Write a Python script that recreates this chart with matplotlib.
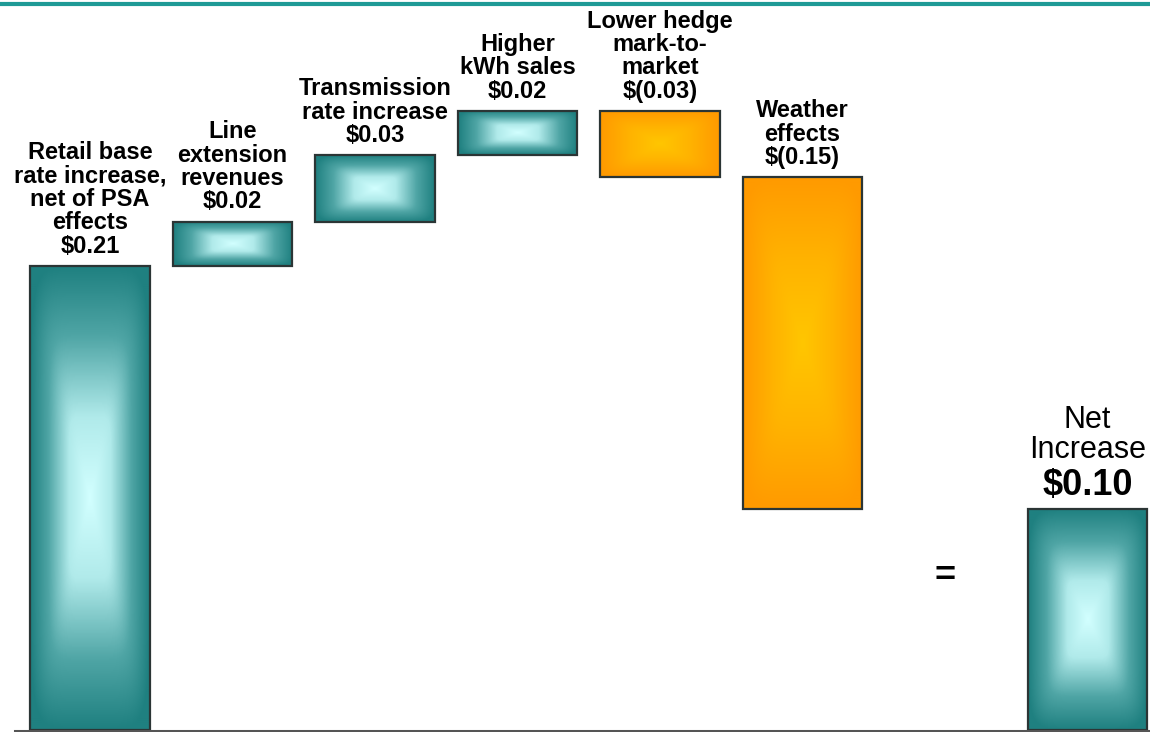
import matplotlib.pyplot as plt
import numpy as np
from matplotlib.colors import LinearSegmentedColormap
from matplotlib.patches import Rectangle

# EPS drivers, $ per share
drivers = ["Retail base\nrate increase,\nnet of PSA\neffects",
           "Line\nextension\nrevenues",
           "Transmission\nrate increase",
           "Higher\nkWh sales",
           "Lower hedge\nmark-to-\nmarket",
           "Weather\neffects"]
changes = [0.21, 0.02, 0.03, 0.02, -0.03, -0.15]
net_label = "Net\nIncrease"
net_pos = 7      # slot 6 holds the "=" sign

teal = LinearSegmentedColormap.from_list(
    "teal", [(0, "#d2ffff"), (0.35, "#b0eaea"), (0.7, "#4fa5a5"), (1, "#1f8080")])
orange = LinearSegmentedColormap.from_list(
    "orange", [(0, "#ffc600"), (0.5, "#ffb300"), (1, "#ff9a00")])

plt.rcParams['font.family'] = ['Liberation Sans', 'DejaVu Sans']

fig = plt.figure(figsize=(11.5, 7.32), dpi=100)
ax = fig.add_axes([0, 2 / 732, 1, 730 / 732])
ax.axis("off")


def money(v):
    return f"${v:.2f}" if v >= 0 else f"$({-v:.2f})"


def box(x, lo, hi, cmap, w=0.84):
    # rectangular gradient with softened corners: light middle, dark edges
    u = np.linspace(-1, 1, 120)
    v = np.linspace(-1, 1, 240)
    U, V = np.meshgrid(u, v)
    t = np.clip((np.abs(U) ** 7 + np.abs(V) ** 7) ** (1 / 7), 0, 1)
    ax.imshow(t, cmap=cmap, extent=[x - w / 2, x + w / 2, lo, hi],
              aspect="auto", interpolation="bilinear", vmin=0, vmax=1, zorder=2)
    ax.add_patch(Rectangle((x - w / 2, lo), w, hi - lo, fill=False,
                           ec="#2b3535", lw=1.6, zorder=3))


level = 0.0
for i, (name, dv) in enumerate(zip(drivers, changes)):
    lo, hi = sorted([level, level + dv])
    box(i, lo, hi, teal if dv > 0 else orange)
    ax.annotate(name + "\n" + money(dv), (i, hi), xytext=(0, 6),
                textcoords="offset points", ha="center", va="bottom",
                fontsize=17, fontweight="bold", linespacing=1.02)
    level += dv

box(net_pos, 0, level, teal)
ax.annotate(net_label, (net_pos, level), xytext=(0, 32), textcoords="offset points",
            ha="center", va="bottom", fontsize=22, linespacing=1.0)
ax.annotate(money(level), (net_pos, level), xytext=(0, 4), textcoords="offset points",
            ha="center", va="bottom", fontsize=26, fontweight="bold")
ax.text(net_pos - 1, 0.0695, "=", ha="center", va="center",
        fontsize=26, fontweight="bold")

ax.set_xlim(-0.632, 7.439)
ax.set_ylim(0, 0.3303)

# baseline and rule across the top
fig.add_artist(plt.Line2D([15 / 1150, 1], [1.5 / 732, 1.5 / 732], color="#555555", lw=2.2))
fig.add_artist(plt.Line2D([0, 1], [728.5 / 732, 728.5 / 732], color="#1e9a96", lw=3))

fig.savefig("out.png", dpi=100)
